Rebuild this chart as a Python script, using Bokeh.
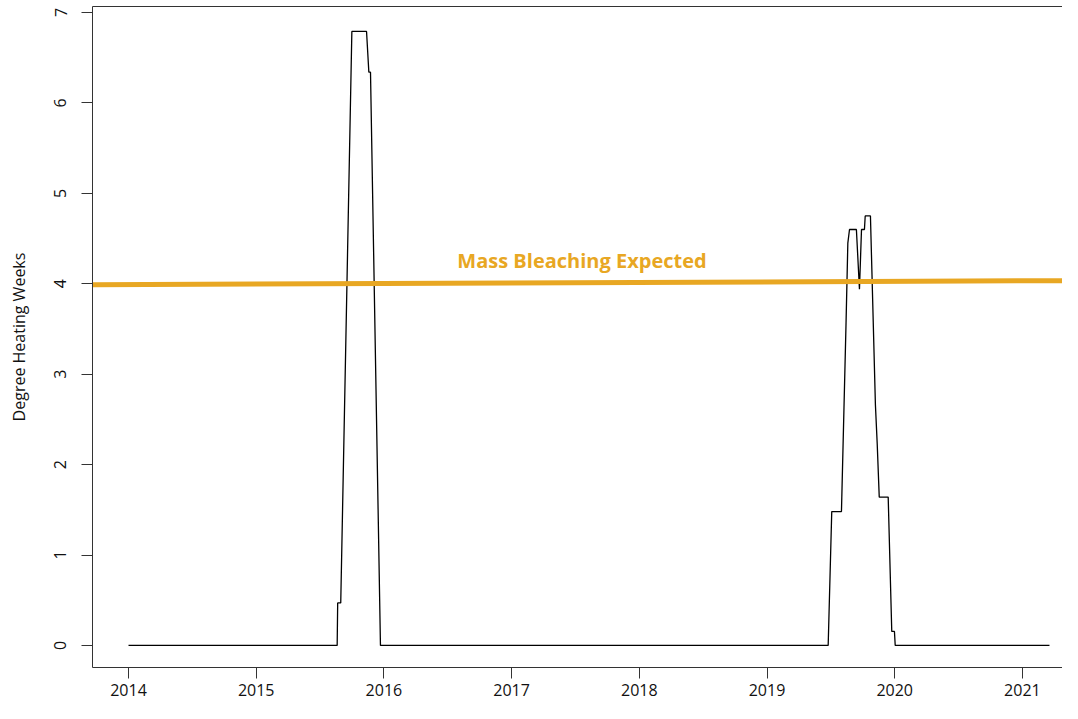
from bokeh.plotting import figure
from bokeh.models import Range1d, FixedTicker, LinearAxis, Label
from bokeh.embed import file_html
from bokeh.resources import INLINE

# Degree Heating Weeks series (decimal year, DHW)
years = [2014.0, 2015.634, 2015.638, 2015.662, 2015.749, 2015.864, 2015.882, 2015.895, 2015.973,
         2019.479, 2019.507, 2019.583, 2019.619, 2019.633, 2019.646, 2019.700, 2019.724, 2019.740,
         2019.763, 2019.769, 2019.810, 2019.849, 2019.863, 2019.879, 2019.949, 2019.977, 2019.998,
         2020.004, 2021.212]
dhw = [0.0, 0.0, 0.47, 0.47, 6.79, 6.79, 6.34, 6.34, 0.0,
       0.0, 1.48, 1.48, 3.57, 4.45, 4.60, 4.60, 3.94, 4.60,
       4.60, 4.75, 4.75, 2.66, 2.23, 1.64, 1.64, 0.155, 0.155,
       0.0, 0.0]

# Threshold line (slightly sloped as drawn)
thr_x = [2013.718, 2021.314]
thr_y = [3.99, 4.034]
thr_label = "Mass Bleaching Expected"

x_ticks = [2014, 2015, 2016, 2017, 2018, 2019, 2020, 2021]
y_ticks = [0, 1, 2, 3, 4, 5, 6, 7]

FONT = "Open Sans"
ORANGE = "#E8A723"

p = figure(width=1062, height=703, output_backend="svg", toolbar_location=None,
           x_range=Range1d(2013.718, 2021.314), y_range=Range1d(-0.244, 7.066),
           min_border_left=92, min_border_right=0, min_border_top=6, min_border_bottom=36)
p.outline_line_color = None
p.grid.visible = False
p.background_fill_color = "white"
p.border_fill_color = "white"

for ax in (p.xaxis[0], p.yaxis[0]):
    ax.major_tick_in = 0
    ax.major_tick_out = 11
    ax.minor_tick_line_color = None
    ax.axis_line_color = "#333333"
    ax.major_tick_line_color = "#333333"
    ax.major_label_text_font = FONT
    ax.major_label_text_font_size = "16px"
    ax.major_label_text_color = "#111111"

p.xaxis[0].ticker = FixedTicker(ticks=x_ticks)
p.xaxis[0].major_label_overrides = {t: str(t) for t in x_ticks}
p.xaxis[0].major_label_standoff = 5

p.yaxis[0].ticker = FixedTicker(ticks=y_ticks)
p.yaxis[0].major_label_orientation = "vertical"
p.yaxis[0].major_label_standoff = 15
p.yaxis[0].axis_label = "Degree Heating Weeks"
p.yaxis[0].axis_label_text_font = FONT
p.yaxis[0].axis_label_text_font_size = "16px"
p.yaxis[0].axis_label_text_font_style = "normal"
p.yaxis[0].axis_label_text_color = "#111111"
p.yaxis[0].axis_label_standoff = 22

top = LinearAxis(major_tick_line_color=None, minor_tick_line_color=None,
                 major_label_text_font_size="0px", axis_line_color="#333333",
                 major_label_standoff=0, ticker=FixedTicker(ticks=[]))
p.add_layout(top, "above")

p.line(years, dhw, line_color="black", line_width=1.3)
p.line(thr_x, thr_y, line_color=ORANGE, line_width=5)

p.add_layout(Label(x=2016.575, y=4.26, text=thr_label, text_font=FONT,
                   text_font_style="bold", text_font_size="20px",
                   text_color=ORANGE, text_baseline="middle", text_align="left"))

open("out.html", "w").write(file_html(p, INLINE))
